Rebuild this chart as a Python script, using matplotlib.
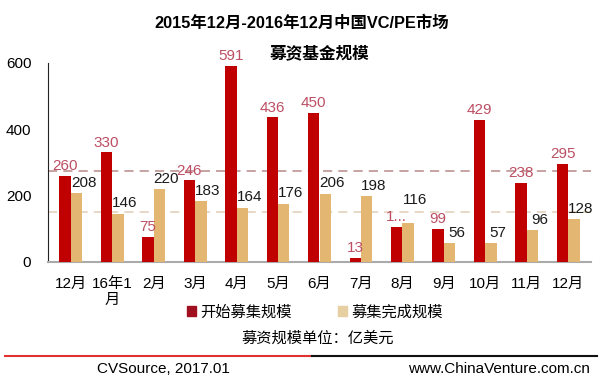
import matplotlib
matplotlib.use("Agg")
import matplotlib.pyplot as plt
import numpy as np
from matplotlib.patches import Patch
from matplotlib.lines import Line2D

plt.rcParams['font.family'] = ['Liberation Sans', 'Noto Sans CJK SC', 'DejaVu Sans']

categories = ["12月", "16年1\n月", "2月", "3月", "4月", "5月", "6月", "7月", "8月", "9月", "10月", "11月", "12月"]
start_vals = [260, 330, 75, 246, 591, 436, 450, 13, 105, 99, 429, 238, 295]
done_vals = [208, 146, 220, 183, 164, 176, 206, 198, 116, 56, 57, 96, 128]
start_labels = ["260", "330", "75", "246", "591", "436", "450", "13", "1...", "99", "429", "238", "295"]
done_labels = [str(v) for v in done_vals]
yticks = [0, 200, 400, 600]

red = "#C00000"
tan = "#E3B771"
lab_red = "#BC4F63"

fig = plt.figure(figsize=(6, 3.83), dpi=100)
ax = fig.add_axes([0.08, 0.316, 0.905, 0.52])

x = np.arange(len(categories))
w = 0.275
ax.bar(x - w/2, start_vals, width=w, color=red, zorder=3)
ax.bar(x + w/2, done_vals, width=w, color=tan, zorder=3)

ax.axhline(np.mean(start_vals), color="#B88A8A", ls=(0, (6, 4)), lw=1.1, zorder=2, clip_on=False)
ax.axhline(np.mean(done_vals), color="#E2CDB8", ls=(0, (6, 4)), lw=1.1, zorder=2, clip_on=False)

for i in range(len(x)):
    ax.text(x[i] - w/2 + 0.0, start_vals[i] + 8, start_labels[i], ha="center", va="bottom",
            fontsize=11, color=lab_red, zorder=4)
    off = 10
    if abs(start_vals[i] - done_vals[i]) < 40:
        off = max(start_vals[i], done_vals[i]) - done_vals[i] + 50
    ax.text(x[i] + w/2 + 0.17, done_vals[i] + off, done_labels[i], ha="center", va="bottom",
            fontsize=11, color="#1a1a1a", zorder=4)

ax.set_xlim(-0.55, len(x) - 0.45)
ax.set_ylim(0, 600)
ax.set_yticks(yticks)
ax.set_yticklabels([str(t) for t in yticks], fontsize=11)
ax.set_xticks(x)
ax.set_xticklabels(categories, fontsize=11, linespacing=1.15)
ax.tick_params(axis="y", length=0, pad=12)
ax.tick_params(axis="x", length=0, pad=11)
for s in ["top", "right"]:
    ax.spines[s].set_visible(False)
ax.spines["left"].set_color("#222222")
ax.spines["bottom"].set_color("#AAAAAA")
ax.spines["bottom"].set_linewidth(1.5)

fig.text(0.503, 0.94, "2015年12月-2016年12月中国VC/PE市场", ha="center", va="center",
         fontsize=11.8, fontweight="bold")
fig.text(0.532, 0.862, "募资基金规模", ha="center", va="center", fontsize=12, fontweight="bold")

handles = [Patch(color="#A01020"), Patch(color="#E6CFA0")]
fig.legend(handles, ["开始募集规模", "募集完成规模"], loc="center", bbox_to_anchor=(0.525, 0.185),
           ncol=2, frameon=False, fontsize=11, handlelength=0.6, handleheight=0.6,
           handletextpad=0.3, columnspacing=3.0)

fig.text(0.53, 0.115, "募资规模单位：亿美元", ha="center", va="center", fontsize=11)

fig.add_artist(Line2D([0.008, 0.52], [0.07, 0.07], color="#E03030", lw=1.5))
fig.add_artist(Line2D([0.52, 0.995], [0.07, 0.07], color="#111111", lw=1.5))

fig.text(0.162, 0.036, "CVSource, 2017.01", ha="left", va="center", fontsize=11)
fig.text(0.983, 0.036, "www.ChinaVenture.com.cn", ha="right", va="center", fontsize=11)

fig.savefig("out.png", dpi=100)
